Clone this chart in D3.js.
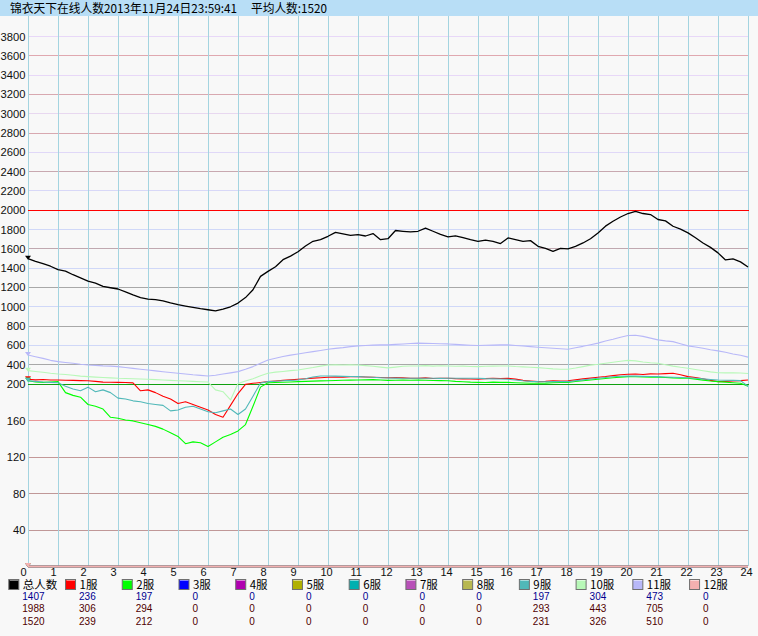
<!DOCTYPE html>
<html><head><meta charset="utf-8">
<script src="https://cdn.jsdelivr.net/npm/d3@7"></script>
<style>
html,body{margin:0;padding:0;background:#f8f8f8;}
svg{display:block;}
</style></head>
<body>
<svg id="chart" width="758" height="636"></svg>
<script>
// ---------------- DATA ----------------
const titleMain = "锦衣天下在线人数2013年11月24日23:59:41";
const titleAvg = "平均人数:1520";

const hours = [0,0.25,0.5,0.75,1,1.25,1.5,1.75,2,2.25,2.5,2.75,3,3.25,3.5,3.75,4,4.25,4.5,4.75,5,5.25,5.5,5.75,6,6.25,6.5,6.75,7,7.25,7.5,7.75,8,8.25,8.5,8.75,9,9.25,9.5,9.75,10,10.25,10.5,10.75,11,11.25,11.5,11.75,12,12.25,12.5,12.75,13,13.25,13.5,13.75,14,14.25,14.5,14.75,15,15.25,15.5,15.75,16,16.25,16.5,16.75,17,17.25,17.5,17.75,18,18.25,18.5,18.75,19,19.25,19.5,19.75,20,20.25,20.5,20.75,21,21.25,21.5,21.75,22,22.25,22.5,22.75,23,23.25,23.5,23.75,24];

const totalVals = [1493,1465,1441,1415,1379,1365,1327,1295,1260,1240,1206,1192,1179,1150,1119,1090,1075,1068,1057,1035,1016,1002,988,975,964,952,971,995,1033,1090,1171,1310,1362,1410,1483,1520,1565,1625,1673,1690,1725,1765,1750,1735,1742,1728,1753,1690,1700,1785,1777,1770,1777,1810,1777,1745,1719,1730,1712,1690,1673,1685,1673,1650,1708,1690,1673,1680,1621,1600,1569,1600,1594,1620,1656,1700,1760,1830,1881,1925,1961,1982,1961,1950,1899,1885,1829,1800,1760,1710,1656,1610,1553,1480,1490,1460,1407];

const s1Vals = [244,238,242,236,236,233,232,230,229,222,214,213,212,210,206,192,193,190,186,183,178,180,177,174,171,166,163,176,189,199,202,210,219,226,232,238,244,250,256,260,264,268,266,270,271,268,265,262,260,262,258,255,254,258,252,255,254,250,248,246,244,250,254,252,254,245,232,225,219,222,228,226,229,238,248,256,264,272,282,290,296,298,294,300,299,302,306,290,271,262,250,232,219,222,226,230,236];

const s2Vals = [229,215,212,216,220,190,187,185,177,175,172,163,162,160,159,157,155,153,150,146,142,134,136,135,131,136,141,144,148,155,175,196,208,210,213,216,219,222,225,227,229,231,233,235,236,238,240,236,232,234,236,234,236,233,231,230,229,222,218,214,212,210,214,212,212,208,205,203,202,204,208,210,212,220,228,236,244,252,260,266,271,270,268,266,264,262,258,256,254,245,235,226,219,214,208,203,197];

const s9Vals = [229,222,215,212,208,197,194,192,196,191,193,190,184,183,181,180,178,177,176,170,171,174,175,172,169,168,170,172,166,172,186,205,219,224,229,232,236,250,268,278,278,276,274,272,271,268,264,260,257,256,255,254,254,255,254,253,254,255,254,254,254,250,248,246,244,236,228,222,219,218,219,220,219,228,238,246,254,262,270,275,278,276,274,272,271,268,265,262,260,254,248,242,236,234,232,230,197];

const s10Vals = [333,325,316,306,299,294,285,276,271,266,262,258,254,252,249,246,244,240,236,232,229,226,222,218,215,193,191,182,200,225,250,280,306,318,325,333,340,352,365,380,392,395,392,394,392,385,378,370,362,370,378,382,382,385,380,384,382,378,380,376,375,378,380,382,382,376,372,368,364,358,352,348,347,360,375,390,399,410,420,430,440,434,422,415,410,395,380,368,358,345,332,320,312,310,312,308,304];

const s11Vals = [496,478,460,440,427,418,410,400,392,388,383,380,375,366,357,348,340,331,322,314,306,298,290,284,278,285,298,310,323,348,375,410,444,462,480,494,506,518,530,542,555,564,572,582,590,594,598,600,600,605,610,614,618,616,614,612,610,605,600,596,593,596,598,600,600,594,588,582,576,570,565,560,555,570,585,602,618,640,659,680,697,700,688,670,652,642,634,612,590,578,565,550,538,524,506,492,473];

// servers with no players all day
const zeroHours = [0, 24];
const zeroVals = [0, 0];

const seriesNames = ["总人数","1服","2服","3服","4服","5服","6服","7服","8服","9服","10服","11服","12服"];
const currentVals = [1407,236,197,0,0,0,0,0,0,197,304,473,0];
const maxVals     = [1988,306,294,0,0,0,0,0,0,293,443,705,0];
const avgVals     = [1520,239,212,0,0,0,0,0,0,231,326,510,0];

const xTicks = [0,1,2,3,4,5,6,7,8,9,10,11,12,13,14,15,16,17,18,19,20,21,22,23,24];
const upperTicks = [200,400,600,800,1000,1200,1400,1600,1800,2000,2200,2400,2600,2800,3000,3200,3400,3600,3800];
const lowerTicks = [40,80,120,160];

// ---------------- STYLE ----------------
const seriesColors = ["#000000","#ff0000","#00ff00","#0000ff","#b000b0","#b0b000","#00b0b0","#b850b8","#b8b850","#50b8b8","#b8f8b8","#b8b8f8","#f4b0b0"];
const gridColor = {
  3800:"#e8d8f8",3600:"#e0a8b0",3400:"#e8d8f8",3200:"#d8a8b0",3000:"#e8d8f0",2800:"#d8a8b0",
  2600:"#e0d8f8",2400:"#c8a8b0",2200:"#d8d8f8",2000:"#ff0000",1800:"#d0d8f8",1600:"#c0a8b0",
  1400:"#d0d8f8",1200:"#a8a8a8",1000:"#d0d8f8",800:"#a8a8a8",600:"#d0d8f8",400:"#a8a8a8",
  200:"#10a010",160:"#e89898",120:"#c49898",80:"#c09898",40:"#c09898"
};

// ---------------- DRAW ----------------
const svg = d3.select("#chart");
const W = 758;
const x = d3.scaleLinear().domain([0,24]).range([28,748]);
const y = d3.scaleLinear().domain([0,200,3800]).range([566,383.5,36]);
const plotTop = 16;

svg.append("rect").attr("x",0).attr("y",0).attr("width",W).attr("height",636).attr("fill","#f8f8f8");

// title bar
svg.append("rect").attr("x",0).attr("y",0).attr("width",W).attr("height",16).attr("fill","#b8def6");
const tf = "'Noto Sans CJK SC','Noto Sans',sans-serif";
svg.append("text").attr("x",10).attr("y",12.5).attr("font-family",tf).attr("font-size",12)
  .attr("textLength",227).attr("lengthAdjust","spacingAndGlyphs").attr("fill","#000").text(titleMain);
svg.append("text").attr("x",251).attr("y",12.5).attr("font-family",tf).attr("font-size",12)
  .attr("textLength",76).attr("lengthAdjust","spacingAndGlyphs").attr("fill","#000").text(titleAvg);

// horizontal grid
const hTicks = lowerTicks.concat(upperTicks);
svg.append("g").selectAll("line").data(hTicks).join("line")
  .attr("x1",x(0)).attr("x2",x(24))
  .attr("y1",d=>Math.round(y(d))+0.5).attr("y2",d=>Math.round(y(d))+0.5)
  .attr("stroke",d=>gridColor[d]).attr("stroke-width",1);

// vertical grid
svg.append("g").selectAll("line").data(xTicks).join("line")
  .attr("x1",d=>x(d)+0.5).attr("x2",d=>x(d)+0.5)
  .attr("y1",plotTop).attr("y2",566)
  .attr("stroke","#a4d4e0").attr("stroke-width",1);

// special lines on top of the vertical grid
svg.append("g").selectAll("line").data([2000,200]).join("line")
  .attr("x1",x(0)).attr("x2",x(24)+1)
  .attr("y1",d=>Math.round(y(d))+0.5).attr("y2",d=>Math.round(y(d))+0.5)
  .attr("stroke",d=>gridColor[d]).attr("stroke-width",1);

// y labels
const lf = "'Liberation Sans',Arial,sans-serif";
svg.append("g").selectAll("text").data(hTicks).join("text")
  .attr("x",25.5).attr("y",d=>y(d)+4.5).attr("text-anchor","end")
  .attr("font-family",lf).attr("font-size",11.2).attr("fill","#101010").text(d=>d);

// x labels
svg.append("g").selectAll("text").data(xTicks).join("text")
  .attr("x",d=>x(d)-7.5).attr("y",576)
  .attr("font-family",lf).attr("font-size",11).attr("fill","#101010").text(d=>d);

// series
const seriesData = [
  {h:hours, v:totalVals},
  {h:hours, v:s1Vals},
  {h:hours, v:s2Vals},
  {h:zeroHours, v:zeroVals},
  {h:zeroHours, v:zeroVals},
  {h:zeroHours, v:zeroVals},
  {h:zeroHours, v:zeroVals},
  {h:zeroHours, v:zeroVals},
  {h:zeroHours, v:zeroVals},
  {h:hours, v:s9Vals},
  {h:hours, v:s10Vals},
  {h:hours, v:s11Vals},
  {h:zeroHours, v:zeroVals}
];
const line = d3.line().x(d=>x(d[0])).y(d=>y(d[1]));
const gS = svg.append("g");
seriesData.forEach((s,i)=>{
  const pts = s.h.map((h,k)=>[h,s.v[k]]);
  const isZero = s.h === zeroHours;
  gS.append("path").attr("d",line(pts)).attr("fill","none")
    .attr("transform", isZero ? "translate(0,0.5)" : null)
    .attr("stroke",seriesColors[i]).attr("stroke-width",i===0?1.3:(isZero?1.5:1.1))
    .attr("stroke-linejoin","round");
  const x0 = x(pts[0][0]), y0 = y(pts[0][1]);
  gS.append("path").attr("d",`M${x0-3},${y0-3}L${x0+3},${y0-3}L${x0},${y0+1}Z`)
    .attr("fill",seriesColors[i]);
});

// legend
const legX = i => 8.3 + 56.73*i;
const cf = "'Noto Sans CJK SC','Noto Sans',sans-serif";
const gL = svg.append("g");
seriesNames.forEach((n,i)=>{
  const lx = legX(i);
  gL.append("rect").attr("x",lx+0.5).attr("y",579.5).attr("width",10).attr("height",10)
    .attr("fill",seriesColors[i]).attr("stroke","#707070").attr("stroke-width",1);
  gL.append("line").attr("x1",lx+1.5).attr("x2",lx+10).attr("y1",580.5).attr("y2",580.5)
    .attr("stroke","#ffffff").attr("stroke-opacity",0.5);
  gL.append("text").attr("x",lx+14.5).attr("y",588.8).attr("font-family",cf).attr("font-size",11.5)
    .attr("fill","#000").text(n);
  gL.append("text").attr("x",lx+14).attr("y",599.5).attr("font-family",lf).attr("font-size",10)
    .attr("fill","#000090").text(currentVals[i]);
  gL.append("text").attr("x",lx+14).attr("y",612).attr("font-family",lf).attr("font-size",10)
    .attr("fill","#500000").text(maxVals[i]);
  gL.append("text").attr("x",lx+14).attr("y",624.5).attr("font-family",lf).attr("font-size",10)
    .attr("fill","#500000").text(avgVals[i]);
});
</script>
</body></html>
